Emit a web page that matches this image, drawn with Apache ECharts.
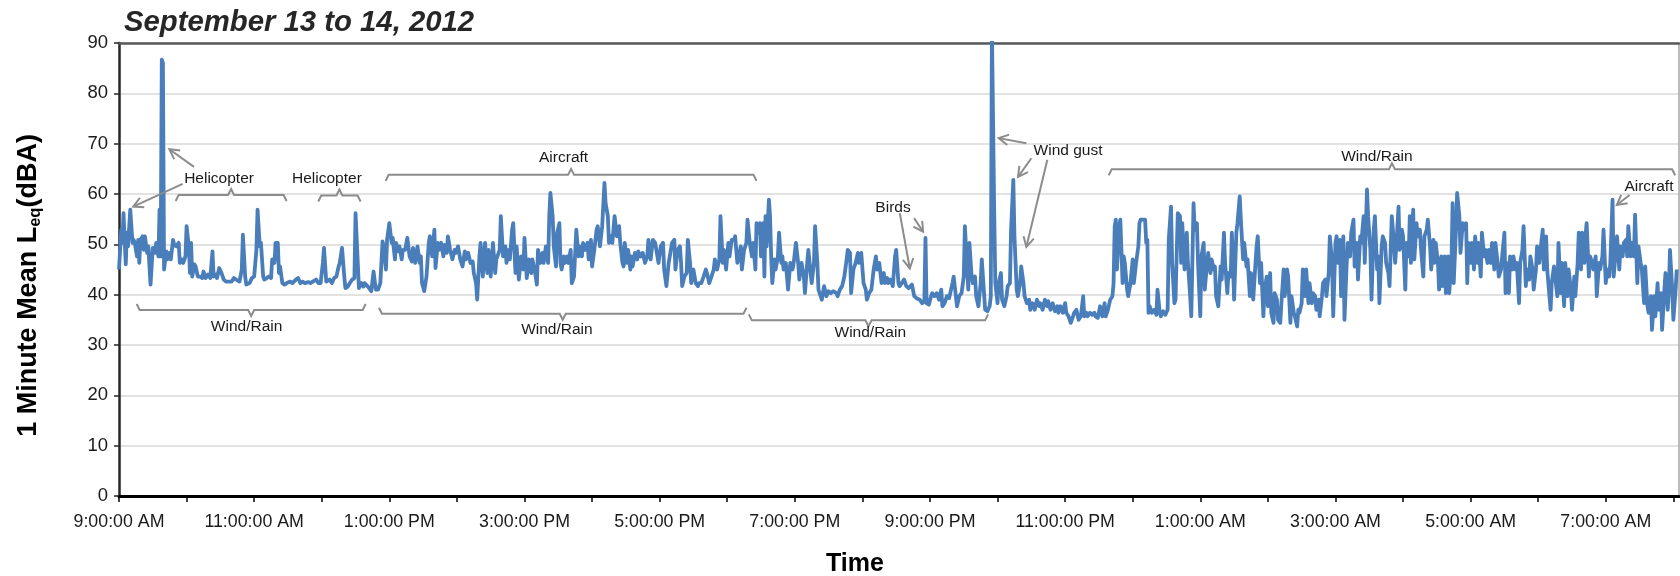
<!DOCTYPE html>
<html><head><meta charset="utf-8">
<script src="https://cdn.jsdelivr.net/npm/echarts@6/dist/echarts.min.js"></script>
<style>html,body{margin:0;padding:0;background:#fff}#chart{width:1680px;height:576px}</style>
</head><body><div id="chart"></div>
<script>
// minutes after 9:00 AM, Sep 13 2012
const minutes = [
0,2,3,4,6,7,8,10,12,13, 14,16,17,18,19,21,22,23,25,26, 28,29,30,32,33,35,36,37,38,39,
40,42,43,45,46,48,49,51,53,54, 56,57,59,60,62,63,64,65,67,68, 70,72,74,75,77,79,81,83,84,86,
87,89,91,93,95,97,100,102,104,107, 109,110,112,113,116,118,120,122,123,125, 126,128,129,131,133,135,136,138,139,141,
142,143,145,147,149,152,154,157,159,161, 163,165,168,170,172,175,177,179,181,182, 184,185,187,189,191,193,195,196,198,200,
201,203,205,207,209,210,212,213,215,217,
218,221,224,226,228,230,232,234,235,237, 238,240,242,243,245,246,248,249,251,252, 254,256,258,260,261,263,265,267,268,269,
271,273,275,276,278,280,281,283,284,286, 288,289,291,292,294,296,298,299,301,303, 305,307,308,310,312,314,315,317,318,320,
321,323,325,327,328,330,332,334,335,338, 339,341,343,344,346,347,349,350,352,353, 355,357,359,360,362,364,366,367,369,371,
372,374,376,377,379,381,382,383,385,386, 388,389,391,392,393,395,396,398,399,401, 402,404,406,408,409,411,412,414,416,417,
419,420,422,424,425,427,429,431,432,434, 435,437,438,440,442,444,445,447,448,
449,451,452,454,455,456,458,460,461,463, 465,467,469,470,472,474,476,477,479,481, 483,484,486,488,489,491,493,494,496,498,
499,500,502,504,505,507,508,510,512,514, 515,517,519,521,522,524,526,528,529,531, 533,534,536,537,539,541,542,544,546,547,
549,551,552,553,555,557,558,560,562,563, 564,565,566,567,569,570,572,573,574,575, 577,578,579,580,582,583,585,586,588,589,
590,592,594,596,598,599,601,603,604,606, 608,609,611,612,614,615,617,618,620,621, 622,624,626,628,630,632,634,637,638,640,
642,644,646,647,649,650,652,654,656,657, 659,661,663,664,666,668,670,672,673,675, 677,679,
680,682,683,685,687,689,690,692,693,695, 697,699,701,702,704,706,708,709,711,713, 715,716,717,719,721,722,724,726,728,730,
731,733,735,737,738,740,741,743,744,746, 748,750,751,753,754,755,757,758,760,761, 763,765,766,768,769,771,773,774,775,776,
777,778,780,781,783,784,786,788,789,791, 792,794,795,797,798,800,801,803,804,806, 808,809,811,813,815,817,818,820,822,824,
825,827,829,831,833,834,836,838,840,841, 843,845,847,848,850,852,854,856,857,859, 860,862,864,866,867,869,871,873,875,876,
878,880,882,883,884,885,886,888,889,890, 891,892,893,895,896,898,900,901,903,905, 906,907,908,
911,912,913,914,915,917,919,921,922,924, 925,927,929,931,932,934,935,937,938,940, 942,943,944,946,948,949,951,952,954,955,
957,958,960,961,963,964,966,967,969,970, 972,973,974,976,978,979,981,982,984,985, 987,988,989,990,992,993,995,996,998,999,
1001,1002,1004,1005,1007,1009,1010,1011,1013,1014, 1016,1017,1019,1020,1022,1023,1025,1026,1028,1029,
1031,1032,1034,1035,1037,1038,1040,1041,1043,1044, 1046,1047,1048,1050,1051,1053,1054,1056,1057,1059,
1060,1062,1063,1065,1066,1068,1069,1071,1072,1074, 1075,1077,1078,1080,1081,1082,1084,1085,1087,1088,
1090,1091,1093,1094,1096,1097,1099,1100,1102,1103, 1105,1106,1108,1109,1111,1112,1114,1115,1117,1118,
1119,1121,1122,1124,1125,1127,1128,1130,1131,1133, 1134,1136,1137,1139,1140,1142,1143,1145,
1146,1147,1149,1150,1152,1153,1155,1156,1158,1159, 1161,1162,1164,1165,1167,1168,1169,1171,1172,1174,
1175,1177,1178,1180,1181,1183,1184,1185,1187,1188, 1190,1191,1193,1194,1196,1197,1198,1200,1201,1203,
1204,1206,1207,1209,1210,1212,1213,1215,1216,1218, 1219,1221,1222,1224,1225,1227,1228,1230,1231,1232,
1234,1235,1237,1238,1240,1241,1243,1244,1246,1247, 1249,1250,1252,1253,1255,1256,1258,1259,1261,1262,
1264,1265,1267,1268,1269,1271,1272,1274,1275,1277, 1278,1280,1281,1283,1284,1286,1287,1289,1290,1292,
1293,1295,1296,1298,1299,1301,1302,1303,1305,1306, 1308,1309,1311,1312,1314,1315,1317,1318,1320,1321,
1323,1324,1326,1327,1329,1330,1332,1333,1335,1336, 1338,1339,1340,1342,1343,1345,1346,1348,1349,1351,
1352,1354,1355,1357,1358,1360,1361,1363,1364,1366, 1367,1369,1370,1372,1373,1375,1376,1377,1379,1380,
1382,1383
];
// 1-minute mean Leq (dBA)
const leq = [
45.0,52.9,50.3,56.2,46.0,52.3,49.6,56.9,50.3,50.9, 50.3,47.6,50.9,46.3,50.9,51.6,48.9,51.6,48.3,49.6, 42.0,42.3,49.3,48.3,50.3,47.6,56.9,47.6,86.7,86.0,
45.0,48.6,47.0,48.3,47.0,50.9,49.9,49.6,50.3,46.3, 47.0,46.3,47.6,53.6,49.6,44.3,50.3,43.6,46.0,45.6, 43.6,43.6,43.3,44.6,43.3,44.0,43.3,48.6,43.6,44.0,
43.3,45.3,44.3,43.0,42.6,42.6,42.6,43.3,43.0,42.6, 45.0,51.9,43.6,42.0,42.3,43.3,43.6,48.9,56.9,49.6, 50.3,43.6,43.0,43.3,43.6,43.3,47.0,46.3,50.3,50.3,
44.3,45.6,42.3,42.0,42.3,42.6,42.3,43.0,43.3,42.3, 42.6,42.3,42.5,42.3,42.6,43.0,42.3,42.3,46.3,49.3, 42.6,42.3,43.0,42.3,43.3,43.6,45.6,46.3,49.3,43.6,
41.3,41.6,42.3,43.0,43.3,56.2,46.3,41.3,42.3,41.6,
42.3,41.6,40.7,44.6,41.0,41.0,42.3,50.6,49.6,45.0, 50.9,54.2,50.3,51.3,47.0,50.3,48.6,49.6,47.0,48.9, 48.9,51.3,47.6,46.6,49.3,46.3,49.6,46.3,47.6,42.3,
40.7,43.6,50.3,51.6,47.6,52.9,45.3,50.3,48.9,50.3, 47.6,49.9,48.3,51.6,48.9,47.0,48.9,48.3,49.6,47.0, 45.6,48.6,47.0,48.3,46.3,46.6,44.3,42.3,39.0,47.6,
50.3,43.6,50.3,44.3,48.9,43.6,50.3,44.3,47.0,48.9, 55.6,47.6,49.6,46.3,48.9,47.0,52.9,54.2,44.3,49.6, 43.0,47.6,45.0,51.3,43.3,47.0,44.3,47.0,45.0,42.0,
48.9,46.3,48.3,46.3,49.6,46.3,55.6,60.2,55.6,49.6, 45.6,52.3,54.2,46.3,45.0,47.6,46.3,47.6,46.3,48.9, 42.3,43.6,52.9,47.6,49.6,47.6,50.3,48.9,50.3,47.0,
50.9,45.6,48.9,52.9,53.6,49.6,53.6,62.2,58.2,55.6, 50.3,51.6,50.3,55.6,51.6,53.6,50.3,46.3,45.6,
50.3,46.3,48.9,45.0,47.6,45.6,48.3,47.0,48.6,47.6, 48.3,46.3,47.6,50.9,47.0,50.9,50.3,50.3,46.3,49.6, 50.3,45.0,41.7,46.3,47.6,50.3,50.9,45.0,48.9,49.6,
46.3,41.7,43.6,44.3,50.9,46.3,42.3,45.0,42.3,41.7, 42.3,42.3,43.6,45.0,44.3,42.3,43.6,45.0,47.0,45.0, 47.0,55.6,46.3,48.9,45.0,50.3,47.6,50.9,50.9,51.6,
46.3,48.3,49.6,45.0,48.9,50.3,54.9,50.3,47.6,50.3, 47.6,45.0,54.2,52.3,54.2,47.6,54.2,43.6,55.6,49.6, 58.9,55.6,47.6,42.3,47.0,45.0,47.6,52.3,46.3,47.6,
45.0,46.3,41.0,46.3,45.0,46.3,50.3,46.3,43.0,46.3, 43.6,40.3,46.3,48.9,44.3,42.3,46.3,53.6,46.3,41.0, 40.3,39.0,41.7,39.7,40.7,40.3,40.7,40.3,39.7,41.0,
41.7,43.6,47.0,48.9,48.3,40.3,45.0,46.3,48.3,46.3, 48.3,42.3,41.0,39.0,40.3,41.0,45.0,47.6,45.0,46.3, 42.3,44.3,
42.3,43.3,42.3,43.0,41.7,47.6,48.9,42.3,41.7,42.3, 43.0,41.7,41.3,41.0,42.0,39.7,39.3,39.0,39.0,38.3, 38.7,51.3,38.3,38.0,39.7,40.3,39.7,40.3,39.0,41.0,
37.7,38.3,39.7,39.3,40.3,42.3,43.6,39.7,37.7,39.7, 40.3,43.6,53.6,45.0,41.0,50.3,43.6,42.3,43.6,39.7, 37.7,42.3,47.0,40.3,37.0,36.7,37.7,39.7,93.0,93.0,
56.9,42.3,38.3,42.3,44.3,39.0,37.7,39.7,41.7,42.3, 52.9,62.8,51.6,41.0,39.7,42.3,45.6,42.3,39.7,38.3, 39.0,37.0,38.3,37.0,39.0,37.7,38.3,37.0,39.0,37.7,
38.7,37.0,38.3,36.7,37.7,36.4,37.7,36.4,38.3,36.4, 35.7,34.4,35.7,36.4,37.0,35.0,35.7,39.7,35.7,36.4, 35.7,36.4,36.0,36.4,35.7,35.4,37.7,35.7,38.3,35.7,
37.0,39.0,39.7,42.3,53.6,54.9,45.0,53.6,54.9,54.9, 42.3,47.6,46.3,41.0,39.7,42.3,47.0,42.3,46.3,49.6, 54.2,54.9,54.9,
54.9,50.3,50.9,36.4,37.7,36.4,37.0,36.0,41.0,36.4, 35.7,36.7,36.0,37.0,50.9,57.5,46.3,38.3,39.0,56.2, 55.6,46.3,54.2,45.0,52.3,46.3,39.7,35.7,58.2,52.9,
54.2,46.3,35.7,47.6,50.3,41.0,46.3,48.3,44.3,47.0, 45.0,45.6,39.7,37.7,45.6,43.0,52.3,46.3,40.3,44.3, 43.6,52.3,46.3,39.0,52.3,54.2,59.5,54.9,47.0,50.3,
45.6,47.0,39.7,44.3,39.0,46.3,49.6,51.6,42.3,46.3, 35.7,41.0,43.6,37.7,44.3,36.4,34.4,40.3,39.0,35.0,
34.4,38.3,45.0,39.7,45.0,43.6,34.4,39.7,36.4,35.7, 33.7,37.0,36.4,38.3,45.0,39.7,45.0,38.3,42.3,38.3,
40.3,39.7,37.0,39.0,35.7,39.7,42.3,43.0,39.7,44.3, 51.6,46.3,35.7,50.3,51.6,46.3,50.9,39.7,51.6,35.0,
46.3,50.3,47.6,52.3,54.9,45.6,50.3,43.0,51.6,50.3, 55.6,46.3,60.9,55.6,48.9,39.0,52.9,55.6,45.0,47.6,
38.3,49.6,51.6,50.3,46.3,44.3,41.7,55.6,52.9,46.3, 49.6,57.5,48.9,52.9,51.6,41.0,50.3,47.6,
55.6,46.3,56.9,47.0,54.2,51.6,52.9,48.9,43.6,51.6, 52.9,54.9,49.6,45.0,50.9,46.3,50.3,46.3,41.0,47.6,
41.7,47.6,40.3,47.6,40.3,46.3,58.2,42.3,52.9,60.2, 55.6,48.3,54.2,52.9,54.2,42.3,50.3,46.3,50.3,45.0,
51.6,46.3,50.3,43.6,52.3,47.6,48.9,46.3,48.9,46.3, 50.3,45.0,50.3,46.3,43.6,45.0,47.6,52.3,40.3,46.3,
40.3,47.6,45.0,47.6,45.0,46.3,38.3,46.3,48.9,53.6, 41.7,45.0,43.0,47.6,45.0,41.0,45.0,49.6,46.3,48.9,
52.9,45.0,51.6,45.0,42.3,37.0,42.3,45.6,43.6,39.7, 50.3,40.3,46.3,37.7,46.3,39.7,45.0,41.0,37.0,43.6,
39.7,46.3,52.3,45.0,52.3,46.3,51.6,54.2,43.6,47.6, 46.3,45.0,47.6,39.7,46.3,45.0,47.6,52.9,42.3,45.0,
43.6,46.3,58.9,43.6,48.9,51.6,45.0,49.6,47.6,50.3, 50.9,47.6,53.6,47.6,50.3,47.6,55.9,42.3,49.6,46.3,
45.0,38.3,45.6,37.7,36.4,39.7,33.0,39.7,35.7,42.3, 37.0,40.3,33.0,41.0,44.3,37.0,41.0,48.9,41.0,35.0,
41.0,45.0
];

// Annotation texts and their positions (minutes after 9 AM, dBA)
const noteText = ['Helicopter','Helicopter','Aircraft','Birds','Wind gust','Wind/Rain','Aircraft','Wind/Rain','Wind/Rain','Wind/Rain'];
const noteMin  = [88.8, 184.6, 394.7, 687.2, 842.6, 1116.8, 1358.3, 113.3, 388.8, 667.0];
const noteLeq  = [63.1, 63.0, 67.2, 57.2, 68.6, 67.4, 61.5, 33.6, 33.1, 32.4];

// Brackets: span in minutes, level in dBA, direction (1 = ends point down, -1 = ends point up)
const braceStart = [50.3, 176.9, 236.7, 878.7, 15.7, 230.8, 559.2];
const braceEnd   = [148.8, 214.5, 566.0, 1381.6, 219.0, 557.1, 771.6];
const braceLeq   = [59.8, 59.7, 63.8, 64.9, 36.95, 36.2, 34.9];
const braceDir   = [1, 1, 1, 1, -1, -1, -1];

// Arrows: from (tail) to (head)
const arrowFromMin = [56.5, 66.6, 693.2, 705.9, 805.6, 810.0, 824.2, 1341.1];
const arrowFromLeq = [62.0, 65.4, 56.2, 55.2, 70.1, 67.1, 66.8, 59.8];
const arrowToMin   = [12.7, 44.7, 702.1, 713.9, 781.0, 798.2, 805.6, 1329.8];
const arrowToLeq   = [57.5, 68.9, 45.2, 52.5, 71.1, 63.4, 49.5, 57.8];

const FONT = "'Liberation Sans', Arial, sans-serif";
const NOTE_COLOR = '#8c8c8c';

function hourLabel(v) {
  if (v % 120 !== 0) return '';
  const h = (9 + v / 60) % 24;
  const ap = h >= 12 ? 'PM' : 'AM';
  let h12 = h % 12; if (h12 === 0) h12 = 12;
  return h12 + ':00:00 ' + ap;
}

const chart = echarts.init(document.getElementById('chart'), null, {renderer: 'canvas'});
chart.setOption({
  animation: false,
  backgroundColor: '#ffffff',
  title: {
    text: 'September 13 to 14, 2012',
    left: 119, top: 3,
    textStyle: {fontFamily: FONT, fontSize: 29.3, fontWeight: 'bold', fontStyle: 'italic', color: '#262626'}
  },
  grid: {left: 119, right: 1, top: 43, bottom: 80, containLabel: false, outerBoundsMode: 'none'},
  xAxis: [{
    type: 'value', min: 0, max: 1385, interval: 60,
    name: 'Time', nameLocation: 'middle', nameGap: 56,
    nameTextStyle: {fontFamily: FONT, fontSize: 25, fontWeight: 'bold', color: '#000', padding: [0, 88, 0, 0]},
    axisLine: {show: true, onZero: false, lineStyle: {color: '#000', width: 3}},
    axisTick: {show: true, length: 6, lineStyle: {color: '#000', width: 1.5}},
    axisLabel: {formatter: hourLabel, fontFamily: FONT, fontSize: 17.8, color: '#1a1a1a', margin: 17, showMaxLabel: false, showMinLabel: true, hideOverlap: false},
    splitLine: {show: false}
  }, {
    type: 'value', min: 0, max: 1385, position: 'top',
    axisLine: {show: true, onZero: false, lineStyle: {color: '#595959', width: 2.5}},
    axisTick: {show: false}, axisLabel: {show: false}, splitLine: {show: false}
  }],
  yAxis: [{
    type: 'value', min: 0, max: 90, interval: 10,
    name: '1 Minute Mean L{sub|eq}(dBA)', nameLocation: 'middle', nameGap: 75,
    nameTextStyle: {
      fontFamily: FONT, fontSize: 27, fontWeight: 'bold', color: '#000', padding: [0, 32, 0, 0],
      rich: {sub: {fontFamily: FONT, fontSize: 16.5, fontWeight: 'bold', color: '#000', padding: [13, 0, 0, 0]}}
    },
    axisLine: {show: true, onZero: false, lineStyle: {color: '#262626', width: 2.5}},
    axisTick: {show: true, length: 5, lineStyle: {color: '#262626', width: 1.5}},
    axisLabel: {fontFamily: FONT, fontSize: 18.5, color: '#1a1a1a', margin: 11},
    splitLine: {show: true, lineStyle: {color: '#d9d9d9', width: 1.5}}
  }, {
    type: 'value', min: 0, max: 90, position: 'right',
    axisLine: {show: true, onZero: false, lineStyle: {color: '#a6a6a6', width: 1.5}},
    axisTick: {show: false}, axisLabel: {show: false}, splitLine: {show: false}
  }],
  series: [
    {
      type: 'line', name: 'Leq', xAxisIndex: 0, yAxisIndex: 0,
      data: minutes.map((m, i) => [m, leq[i]]),
      showSymbol: false, symbol: 'none', clip: true,
      lineStyle: {color: '#4a7ebb', width: 3.8, join: 'round'},
      z: 3
    },
    {
      type: 'custom', name: 'braces', xAxisIndex: 0, yAxisIndex: 0, silent: true, z: 4,
      data: braceStart.map((s, i) => [s, braceEnd[i], braceLeq[i], braceDir[i]]),
      encode: {x: [0, 1], y: 2},
      renderItem: function (params, api) {
        const a = api.coord([api.value(0), api.value(2)]);
        const b = api.coord([api.value(1), api.value(2)]);
        const d = api.value(3), h = 6, r = 3, y = a[1], cx = (a[0] + b[0]) / 2;
        return {
          type: 'polyline',
          shape: {points: [[a[0], y + d * h], [a[0] + r, y], [cx - r, y], [cx, y - d * h], [cx + r, y], [b[0] - r, y], [b[0], y + d * h]]},
          style: {stroke: NOTE_COLOR, lineWidth: 2, fill: 'none'}
        };
      }
    },
    {
      type: 'custom', name: 'arrows', xAxisIndex: 0, yAxisIndex: 0, silent: true, z: 5,
      data: arrowFromMin.map((m, i) => [m, arrowFromLeq[i], arrowToMin[i], arrowToLeq[i]]),
      encode: {x: [0, 2], y: [1, 3]},
      renderItem: function (params, api) {
        const a = api.coord([api.value(0), api.value(1)]);
        const b = api.coord([api.value(2), api.value(3)]);
        const ang = Math.atan2(b[1] - a[1], b[0] - a[0]);
        const L = 11, w = 0.5;
        const p1 = [b[0] - L * Math.cos(ang - w), b[1] - L * Math.sin(ang - w)];
        const p2 = [b[0] - L * Math.cos(ang + w), b[1] - L * Math.sin(ang + w)];
        return {
          type: 'group',
          children: [
            {type: 'line', shape: {x1: a[0], y1: a[1], x2: b[0], y2: b[1]}, style: {stroke: NOTE_COLOR, lineWidth: 2}},
            {type: 'polyline', shape: {points: [p1, b, p2]}, style: {stroke: NOTE_COLOR, lineWidth: 2, fill: 'none'}}
          ]
        };
      }
    },
    {
      type: 'custom', name: 'notes', xAxisIndex: 0, yAxisIndex: 0, silent: true, z: 6,
      data: noteMin.map((m, i) => [m, noteLeq[i]]),
      encode: {x: 0, y: 1},
      renderItem: function (params, api) {
        const p = api.coord([api.value(0), api.value(1)]);
        return {
          type: 'text', x: p[0], y: p[1],
          style: {text: noteText[params.dataIndex], font: '15.5px ' + FONT, fill: '#1a1a1a',
                  align: 'center', verticalAlign: 'middle', textAlign: 'center', textVerticalAlign: 'middle'}
        };
      }
    }
  ]
});
</script>
</body></html>
